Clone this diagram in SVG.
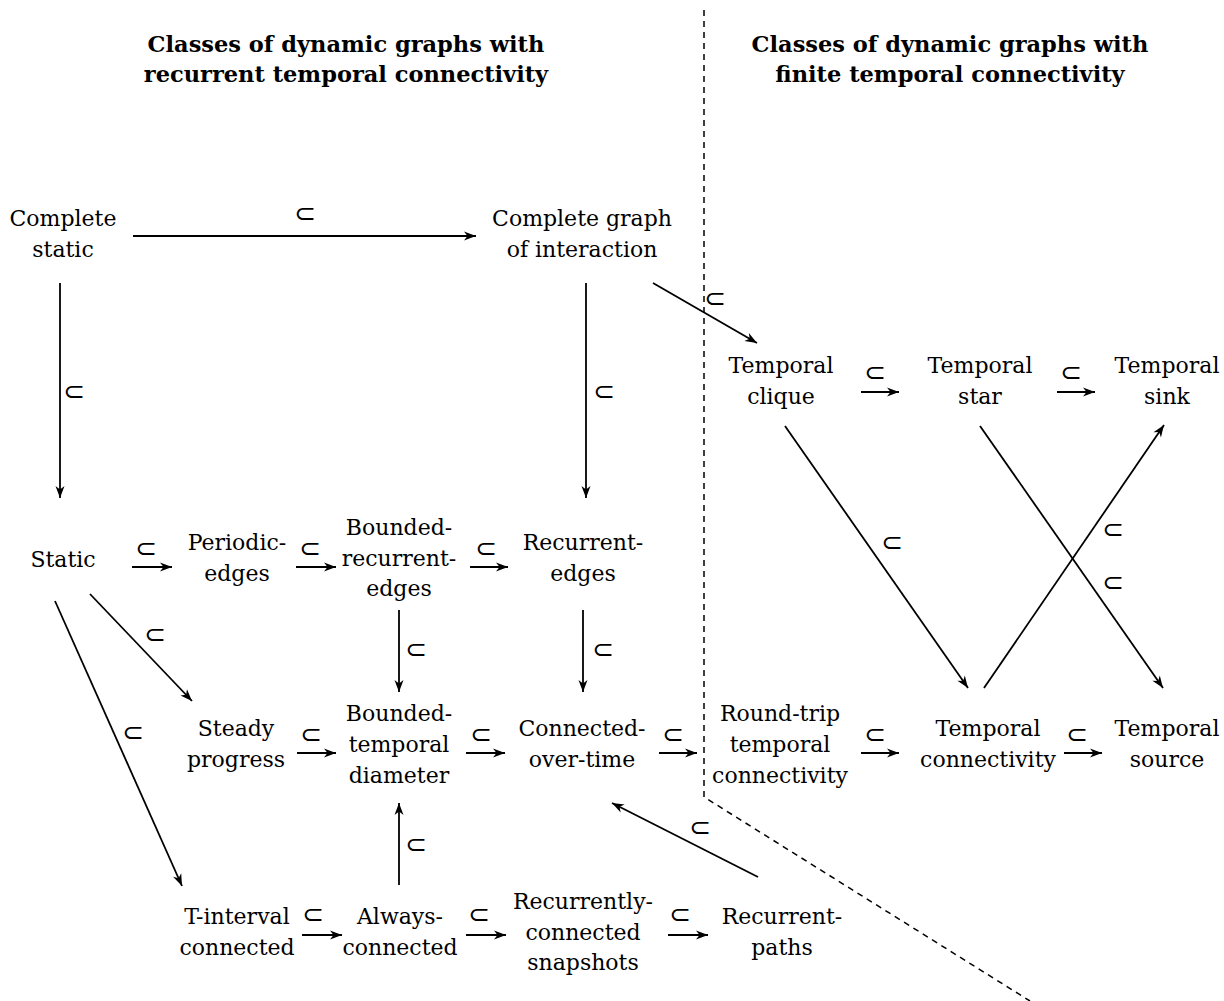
<svg xmlns="http://www.w3.org/2000/svg" width="1224" height="1001" viewBox="0 0 1224 1001">
<style>
.t{font-family:"DejaVu Serif","Liberation Serif",serif;font-size:22px;fill:#000;text-anchor:middle}
.h{font-family:"DejaVu Serif","Liberation Serif",serif;font-size:22.5px;font-weight:bold;fill:#000;text-anchor:middle}
.s{font-family:"DejaVu Sans",sans-serif;font-size:26px;fill:#000;text-anchor:middle}
.e{stroke:#000;stroke-width:1.8;fill:none;marker-end:url(#ah)}
.d{stroke:#000;stroke-width:1.5;fill:none;stroke-dasharray:6,5}
</style>
<defs>
<marker id="ah" markerUnits="userSpaceOnUse" markerWidth="16" markerHeight="12" viewBox="-13 -6 14 12" refX="0" refY="0" orient="auto">
<path d="M0,0 L-12,-4.5 L-8.5,0 L-12,4.5 z" fill="#000"/>
</marker>
</defs>
<rect width="1224" height="1001" fill="#fff"/>
<g id="titles">
<text class="h" x="346" y="52">Classes of dynamic graphs with</text>
<text class="h" x="346" y="82">recurrent temporal connectivity</text>
<text class="h" x="950" y="52">Classes of dynamic graphs with</text>
<text class="h" x="950" y="82">finite temporal connectivity</text>
</g>
<g id="divider">
<path class="d" d="M704,10 L704,797 L1030,1001"/>
</g>
<g id="n-complete-static"><text class="t" x="63" y="226">Complete</text><text class="t" x="63" y="257">static</text></g>
<g id="n-complete-interaction"><text class="t" x="582" y="226">Complete graph</text><text class="t" x="582" y="257">of interaction</text></g>
<g id="n-static"><text class="t" x="63" y="567">Static</text></g>
<g id="n-periodic"><text class="t" x="237" y="550">Periodic-</text><text class="t" x="237" y="581">edges</text></g>
<g id="n-bounded-recurrent"><text class="t" x="399" y="535">Bounded-</text><text class="t" x="399" y="566">recurrent-</text><text class="t" x="399" y="596">edges</text></g>
<g id="n-recurrent-edges"><text class="t" x="583" y="550">Recurrent-</text><text class="t" x="583" y="581">edges</text></g>
<g id="n-steady"><text class="t" x="236" y="736">Steady</text><text class="t" x="236" y="767">progress</text></g>
<g id="n-bounded-temporal"><text class="t" x="399" y="721">Bounded-</text><text class="t" x="399" y="752">temporal</text><text class="t" x="399" y="783">diameter</text></g>
<g id="n-connected-over-time"><text class="t" x="582" y="736">Connected-</text><text class="t" x="582" y="767">over-time</text></g>
<g id="n-round-trip"><text class="t" x="780" y="721">Round-trip</text><text class="t" x="780" y="752">temporal</text><text class="t" x="780" y="783">connectivity</text></g>
<g id="n-temporal-connectivity"><text class="t" x="988" y="736">Temporal</text><text class="t" x="988" y="767">connectivity</text></g>
<g id="n-temporal-source"><text class="t" x="1167" y="736">Temporal</text><text class="t" x="1167" y="767">source</text></g>
<g id="n-temporal-clique"><text class="t" x="781" y="373">Temporal</text><text class="t" x="781" y="404">clique</text></g>
<g id="n-temporal-star"><text class="t" x="980" y="373">Temporal</text><text class="t" x="980" y="404">star</text></g>
<g id="n-temporal-sink"><text class="t" x="1167" y="373">Temporal</text><text class="t" x="1167" y="404">sink</text></g>
<g id="n-t-interval"><text class="t" x="237" y="924">T-interval</text><text class="t" x="237" y="955">connected</text></g>
<g id="n-always"><text class="t" x="400" y="924">Always-</text><text class="t" x="400" y="955">connected</text></g>
<g id="n-recurrently"><text class="t" x="583" y="909">Recurrently-</text><text class="t" x="583" y="940">connected</text><text class="t" x="583" y="970">snapshots</text></g>
<g id="n-recurrent-paths"><text class="t" x="782" y="924">Recurrent-</text><text class="t" x="782" y="955">paths</text></g>
<g id="connectors">
<path class="e" d="M133,236 L476,236"/>
<path class="e" d="M60,283 L60,498"/>
<path class="e" d="M586,283 L586,498"/>
<path class="e" d="M653,283 L757,343"/>
<path class="e" d="M132,567 L172,567"/>
<path class="e" d="M296,567 L336,567"/>
<path class="e" d="M470,567 L508,567"/>
<path class="e" d="M399,610 L399,692"/>
<path class="e" d="M583,610 L583,692"/>
<path class="e" d="M90,594 L192,701"/>
<path class="e" d="M55,601 L182,886"/>
<path class="e" d="M297,753 L336,753"/>
<path class="e" d="M466,753 L505,753"/>
<path class="e" d="M659,753 L697,753"/>
<path class="e" d="M861,753 L899,753"/>
<path class="e" d="M1064,753 L1102,753"/>
<path class="e" d="M399,885 L399,803"/>
<path class="e" d="M758,877 L612,803"/>
<path class="e" d="M302,935 L342,935"/>
<path class="e" d="M466,935 L506,935"/>
<path class="e" d="M668,935 L708,935"/>
<path class="e" d="M861,392 L899,392"/>
<path class="e" d="M1057,392 L1095,392"/>
<path class="e" d="M785,426 L968,688"/>
<path class="e" d="M980,426 L1163,688"/>
<path class="e" d="M984,688 L1164,425"/>
</g>
<g id="labels">
<text class="s" x="305" y="222">⊂</text>
<text class="s" x="74" y="400">⊂</text>
<text class="s" x="604" y="400">⊂</text>
<text class="s" x="715" y="307">⊂</text>
<text class="s" x="146" y="557">⊂</text>
<text class="s" x="310" y="557">⊂</text>
<text class="s" x="486" y="557">⊂</text>
<text class="s" x="416" y="658">⊂</text>
<text class="s" x="603" y="658">⊂</text>
<text class="s" x="155" y="643">⊂</text>
<text class="s" x="133" y="741">⊂</text>
<text class="s" x="311" y="743">⊂</text>
<text class="s" x="481" y="743">⊂</text>
<text class="s" x="673" y="743">⊂</text>
<text class="s" x="875" y="743">⊂</text>
<text class="s" x="1077" y="743">⊂</text>
<text class="s" x="416" y="853">⊂</text>
<text class="s" x="700" y="836">⊂</text>
<text class="s" x="313" y="923">⊂</text>
<text class="s" x="479" y="923">⊂</text>
<text class="s" x="680" y="923">⊂</text>
<text class="s" x="875" y="381">⊂</text>
<text class="s" x="1071" y="381">⊂</text>
<text class="s" x="892" y="551">⊂</text>
<text class="s" x="1113" y="538">⊂</text>
<text class="s" x="1113" y="591">⊂</text>
</g>
</svg>
